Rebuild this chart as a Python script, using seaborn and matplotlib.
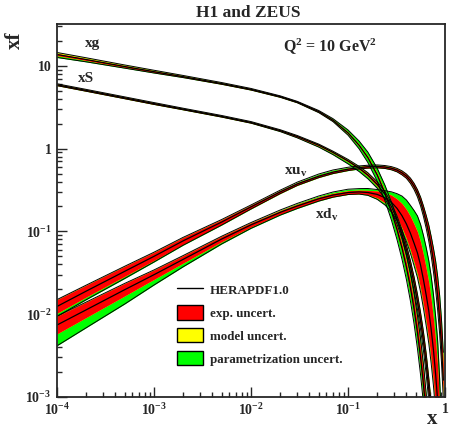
import numpy as np
import pandas as pd
import matplotlib
matplotlib.use("Agg")
import matplotlib.pyplot as plt
import seaborn as sns
from matplotlib.lines import Line2D
from matplotlib.patches import Patch

nan = np.nan

# ─── Data (Q2 = 10 GeV2) ─────────────────────────────────────────────────────

X = [1e-4, 2e-4, 5e-4, 1e-3, 2e-3, 5e-3, 0.01, 0.02, 0.03, 0.05, 0.07, 0.1,
     0.13, 0.16, 0.2, 0.24, 0.28, 0.32, 0.36, 0.4, 0.44, 0.48, 0.52, 0.56,
     0.6, 0.64, 0.68, 0.72, 0.76, 0.8, 0.84, 0.88, 0.92, 0.96]

# central values
XG = [13.7, 11.9, 9.8, 8.5, 7.4, 6.1, 5.2, 4.25, 3.65, 2.8, 2.2, 1.55, 1.1,
      0.78, 0.48, 0.29, 0.175, 0.105, 0.063, 0.037, 0.021, 0.0115, 0.006,
      0.003, 0.0014, 0.0006, 0.0002]
XS = [5.9, 5.05, 4.1, 3.5, 3.0, 2.45, 2.07, 1.65, 1.4, 1.1, 0.9, 0.71, 0.58,
      0.48, 0.37, 0.28, 0.2, 0.138, 0.093, 0.06, 0.038, 0.0235, 0.0142,
      0.0083, 0.0047, 0.0025, 0.00125, 0.0006, 0.00025]
XUV = [0.0124, 0.019, 0.033, 0.05, 0.077, 0.13, 0.198, 0.30, 0.375, 0.465,
       0.52, 0.565, 0.59, 0.605, 0.61, 0.6, 0.58, 0.55, 0.51, 0.465, 0.41,
       0.35, 0.29, 0.23, 0.175, 0.13, 0.095, 0.066, 0.044, 0.028, 0.0165,
       0.009, 0.0042, 0.0016]
XDV = [0.0074, 0.0113, 0.0198, 0.030, 0.046, 0.081, 0.12, 0.17, 0.203, 0.248,
       0.275, 0.295, 0.3, 0.295, 0.28, 0.255, 0.225, 0.19, 0.155, 0.123, 0.095,
       0.072, 0.055, 0.039, 0.026, 0.017, 0.011, 0.0066, 0.0037, 0.0019,
       0.0009, 0.0003, 0.00008]

# uncertainties (as factors): experimental, model up/down, parametrisation up/down
XG_EXP = [.03, .025, .02, .02, .015, .015, .015, .015, .015, .02, .02, .025,
          .03, .04, .05, .06, .08, .10, .12, .15, .18, .22, .26, .3, .35, .4, .45]
XG_MUP = [.05, .045, .04, .035, .03, .025, .02, .015, .012, .01, .01, .01, .015,
          .02, .03, .04, .05, .06, .07, .08, .09, .10, .11, .12, .13, .14, .15]
XG_MDN = [.01] * 27
XG_PUP = [0, 0, 0, 0, 0, 0, 0, 0, .005, .02, .04, .08, .12, .16, .2, .24, .28,
          .32, .36, .4, .45, .5, .55, .6, .65, .7, .75]
XG_PDN = [.08, .06, .04, .03, .02, .01, .01, .01, .01, .02, .03, .06, .1, .14,
          .18, .22, .26, .3, .34, .38, .42, .46, .5, .55, .6, .65, .7]

XS_EXP = [.02, .02, .02, .02, .015, .015, .015, .015, .02, .02, .02, .025, .03,
          .04, .05, .06, .07, .08, .09, .10, .12, .14, .16, .18, .21, .24, .27,
          .3, .33]
XS_MUP = [.02] * 14 + [.03, .03, .04, .04, .05, .05, .06, .07, .08, .09, .10,
                       .11, .12, .13, .14]
XS_MDN = [.01] * 29
XS_PUP = [0] * 9 + [.01, .02, .03, .04, .05, .05, .06, .06, .07, .08, .09, .10,
                    .12, .14, .16, .18, .2, .22, .24, .26]
XS_PDN = [.01] * 7 + [.02, .03, .05, .06, .08, .09, .10, .10, .10, .10, .10,
                      .10, .12, .14, .16, .18, .20, .22, .24, .26, .28, .3]

XUV_EXP = [.21, .18, .15, .12, .10, .07, .05, .04, .035, .03, .03, .03, .03, .03,
           .03, .03, .035, .04, .045, .05, .06, .07, .08, .10, .12, .15, .2, .25,
           .3, .36, .42, .48, .55, .6]
XUV_MUP = [.02] * 34
XUV_MDN = [.02] * 20 + [.03, .04, .05, .06, .07, .08, .09, .1, .11, .12, .13,
                        .14, .15, .16]
XUV_PUP = [0] * 7 + [.02, .03, .05, .05, .04, .03, .02, .02, .02, .02, .02, .03,
                     .03, .04, .05, .06, .08, .1, .13, .16, .2, .3, .45, .6, .75,
                     .9, 1.0]
XUV_PDN = [.24, .2, .16, .12, .08, .05, .03, .02, .02, .02, .02, .02, .02, .02,
           .02, .02, .02, .02, .03, .03, .04, .05, .06, .07, .08, .09, .1, .12,
           .14, .16, .18, .2, .22, .24]

XDV_EXP = [.28, .24, .19, .14, .11, .08, .06, .05, .05, .05, .05, .05, .05, .06,
           .1, .15, .22, .3, .4, .5, .6, .7, .8, .9, 1.0, 1.1, 1.2, 1.3, 1.4,
           1.5, 1.6, 1.7, 1.8]
XDV_MUP = [.02] * 14 + [.03, .04, .05, .06, .08, .1, .12, .14, .16, .18, .2, .22,
                        .24, .26, .28, .3, .32, .34, .36]
XDV_MDN = [.02] * 14 + [.04, .06, .08, .1, .13, .16, .2, .24, .28, .32, .36, .4,
                        .45, .5, .55, .6, .65, .7, .75]
XDV_PUP = [0] * 6 + [.02, .04, .05, .06, .07, .08, .08, .1, .1, .15, .25, .4, .6,
                     .8, 1.0, 1.3, 1.6, 1.9, 2.2, 2.5, 2.8, 3.1, 3.4, 3.7, 4.0,
                     4.3, 4.6]
XDV_PDN = [.73, .6, .45, .3, .2, .12, .08, .06, .05, .04, .03, .02, .03, .05, .1,
           .15, .2, .25, .3, .35, .4, .45, .5, .55, .6, .65, .7, .75, .8, .85, .9,
           .95, 1.0]

PDFS = {
    "xuv": (XUV, XUV_EXP, XUV_MUP, XUV_MDN, XUV_PUP, XUV_PDN),
    "xdv": (XDV, XDV_EXP, XDV_MUP, XDV_MDN, XDV_PUP, XDV_PDN),
    "xS": (XS, XS_EXP, XS_MUP, XS_MDN, XS_PUP, XS_PDN),
    "xg": (XG, XG_EXP, XG_MUP, XG_MDN, XG_PUP, XG_PDN),
}


def pad(a):
    a = np.asarray(a, dtype=float)[:len(X)]
    return np.concatenate([a, np.full(len(X) - len(a), nan)])


# ─── Style ───────────────────────────────────────────────────────────────────

sns.set_style("ticks")
plt.rcParams["font.family"] = ["Liberation Serif", "DejaVu Serif"]
plt.rcParams["font.weight"] = "bold"
plt.rcParams["mathtext.fontset"] = "custom"
plt.rcParams["mathtext.rm"] = "Liberation Serif:bold"
plt.rcParams["mathtext.it"] = "Liberation Serif:bold:italic"
plt.rcParams["mathtext.bf"] = "Liberation Serif:bold"

RED, YELLOW, GREEN = "#ff0000", "#ffff00", "#00ff00"

fig = plt.figure(figsize=(4.51, 4.29), dpi=100)
ax = fig.add_axes([57 / 451, 32 / 429, 388 / 451, 373 / 429])
ax.set_xscale("log")
ax.set_yscale("log")

xs = np.array(X)
rows = []
for name, (c, e, mu, md, pu, pd_) in PDFS.items():
    c, e, mu, md, pu, pd_ = map(pad, (c, e, mu, md, pu, pd_))
    up_em = np.sqrt(e**2 + mu**2)
    dn_em = np.sqrt(e**2 + md**2)
    up_tot = np.sqrt(up_em**2 + pu**2)
    dn_tot = np.sqrt(dn_em**2 + pd_**2)
    ax.fill_between(xs, c / (1 + dn_tot), c * (1 + up_tot), color=GREEN, lw=0)
    ax.fill_between(xs, c / (1 + dn_em), c * (1 + up_em), color=YELLOW, lw=0)
    ax.fill_between(xs, c / (1 + e), c * (1 + e), color=RED, lw=0)
    ax.plot(xs, c / (1 + dn_tot), color="black", lw=0.7)
    ax.plot(xs, c * (1 + up_tot), color="black", lw=0.7)
    for xv, yv in zip(X, c):
        rows.append({"pdf": name, "x": xv, "xf": yv})

df = pd.DataFrame(rows).dropna()
sns.lineplot(data=df, x="x", y="xf", units="pdf", estimator=None,
             color="black", lw=0.9, ax=ax)

ax.set_xlim(1e-4, 1)
ax.set_ylim(1e-3, 32)
ax.set_xlabel("")
ax.set_ylabel("")

ax.set_xticks([1e-4, 1e-3, 1e-2, 1e-1, 1],
              labels=[r"10$^{-4}$", r"10$^{-3}$", r"10$^{-2}$", r"10$^{-1}$", "1"])
ax.set_yticks([1e-3, 1e-2, 1e-1, 1, 10],
              labels=[r"10$^{-3}$", r"10$^{-2}$", r"10$^{-1}$", "1", "10"])
ax.tick_params(which="both", direction="in", top=False, right=False,
               labelsize=10, width=1)
ax.tick_params(which="major", length=7, pad=4)
ax.tick_params(which="minor", length=3.5)
for sp in ax.spines.values():
    sp.set_linewidth(1.3)
    sp.set_visible(True)

# curve labels
ax.text(2.3e-4, 18.4, "xg", fontsize=11, ha="center", va="center")
ax.text(2.0e-4, 7.0, "xS", fontsize=11, ha="center", va="center")
ax.text(0.029, 0.52, r"xu$_\mathrm{v}$", fontsize=11, ha="center", va="center")
ax.text(0.061, 0.158, r"xd$_\mathrm{v}$", fontsize=11, ha="center", va="center")
ax.text(0.704, 0.938, r"Q$^\mathrm{2}$ = 10 GeV$^\mathrm{2}$", fontsize=11.5,
        ha="center", va="center", transform=ax.transAxes)

fig.text(248 / 451, 1 - 13 / 429, "H1 and ZEUS", fontsize=12.5, ha="center",
         va="center")
fig.text(15 / 451, 1 - 40 / 429, "xf", fontsize=15, rotation=90, ha="center",
         va="center")
fig.text(432 / 451, 1 - 419 / 429, "x", fontsize=15, ha="center", va="center")

handles = [
    Line2D([], [], color="black", lw=1),
    Patch(facecolor=RED, edgecolor="black", lw=1),
    Patch(facecolor=YELLOW, edgecolor="black", lw=1),
    Patch(facecolor=GREEN, edgecolor="black", lw=1),
]
labels = ["HERAPDF1.0", "exp. uncert.", "model uncert.", "parametrization uncert."]
ax.legend(handles, labels, loc="upper left", bbox_to_anchor=(0.308, 0.307),
          frameon=False, fontsize=9.4, handlelength=2.0, handleheight=1.3,
          handletextpad=0.55, labelspacing=0.64, borderpad=0, borderaxespad=0)

fig.savefig("out.png", dpi=100)
